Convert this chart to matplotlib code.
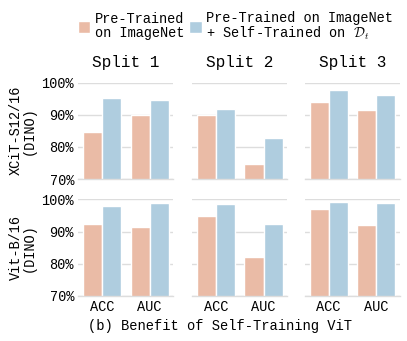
import numpy as np
import matplotlib.pyplot as plt

# metric values (%)
splits = ['Split 1', 'Split 2', 'Split 3']
metrics = ['ACC', 'AUC']
models = ['XCiT-S12/16\n(DINO)', 'Vit-B/16\n(DINO)']
series_labels = ['Pre-Trained\non ImageNet', 'Pre-Trained on ImageNet\n+ Self-Trained on $\\mathcal{D}_t$']

# rows: model, cols: split, inner: [ACC, AUC]
xcit_pre = [[84.6, 89.8], [90.0, 74.7], [93.8, 91.5]]
xcit_self = [[95.2, 94.6], [91.8, 82.8], [97.6, 96.2]]
vit_pre = [[92.5, 91.6], [95.0, 82.1], [96.9, 92.1]]
vit_self = [[97.9, 99.0], [98.5, 92.5], [99.2, 98.8]]

pre_vals = [xcit_pre, vit_pre]
self_vals = [xcit_self, vit_self]
colors = ['#EABBA6', '#AFCDDF']

plt.rcParams['font.family'] = ['Liberation Mono', 'DejaVu Sans']
plt.rcParams['mathtext.fontset'] = 'cm'

fig = plt.figure(figsize=(4.07, 3.41), dpi=100)

lefts = [0.192, 0.472, 0.749]
width = 0.234
bottoms = [0.475, 0.132]
height = 0.283

x = np.arange(len(metrics))
bw = 0.4
handles = []
for r in range(2):
    for c in range(3):
        ax = fig.add_axes([lefts[c], bottoms[r], width, height])
        b1 = ax.bar(x - bw / 2, pre_vals[r][c], bw, color=colors[0], edgecolor='white', linewidth=1, zorder=2)
        b2 = ax.bar(x + bw / 2, self_vals[r][c], bw, color=colors[1], edgecolor='white', linewidth=1, zorder=2)
        if not handles:
            handles = [b1, b2]
        ax.set_ylim(70, 100)
        ax.set_xlim(-0.5, 1.5)
        ax.set_yticks([70, 80, 90, 100])
        ax.grid(axis='y', color='#dddddd', linewidth=1, zorder=0)
        ax.set_axisbelow(True)
        for s in ['left', 'right', 'top']:
            ax.spines[s].set_visible(False)
        ax.spines['bottom'].set_color('#dddddd')
        ax.spines['bottom'].set_linewidth(1)
        ax.tick_params(length=0, labelsize=9.8, pad=3)
        if c == 0:
            ax.set_yticklabels(['70%', '80%', '90%', '100%'])
            ax.set_ylabel(models[r], fontsize=9.8, linespacing=0.9, labelpad=4)
        else:
            ax.set_yticklabels([])
        if r == 0:
            ax.set_title(splits[c], fontsize=11.5, pad=11)
            ax.set_xticks([])
        else:
            ax.set_xticks(x)
            ax.set_xticklabels(metrics)

fig.text(0.54, 0.045, '(b) Benefit of Self-Training ViT', ha='center', va='center', fontsize=9.9)
leg = fig.legend(handles, series_labels, loc='upper left', bbox_to_anchor=(0.162, 1.005), ncol=2,
                 frameon=False, fontsize=9.8, handlelength=0.9, handleheight=0.9, handletextpad=0.3,
                 columnspacing=0.4, labelspacing=0.2)
for t in leg.get_texts():
    t.set_linespacing(1.0)

fig.savefig('out.png', dpi=100)
